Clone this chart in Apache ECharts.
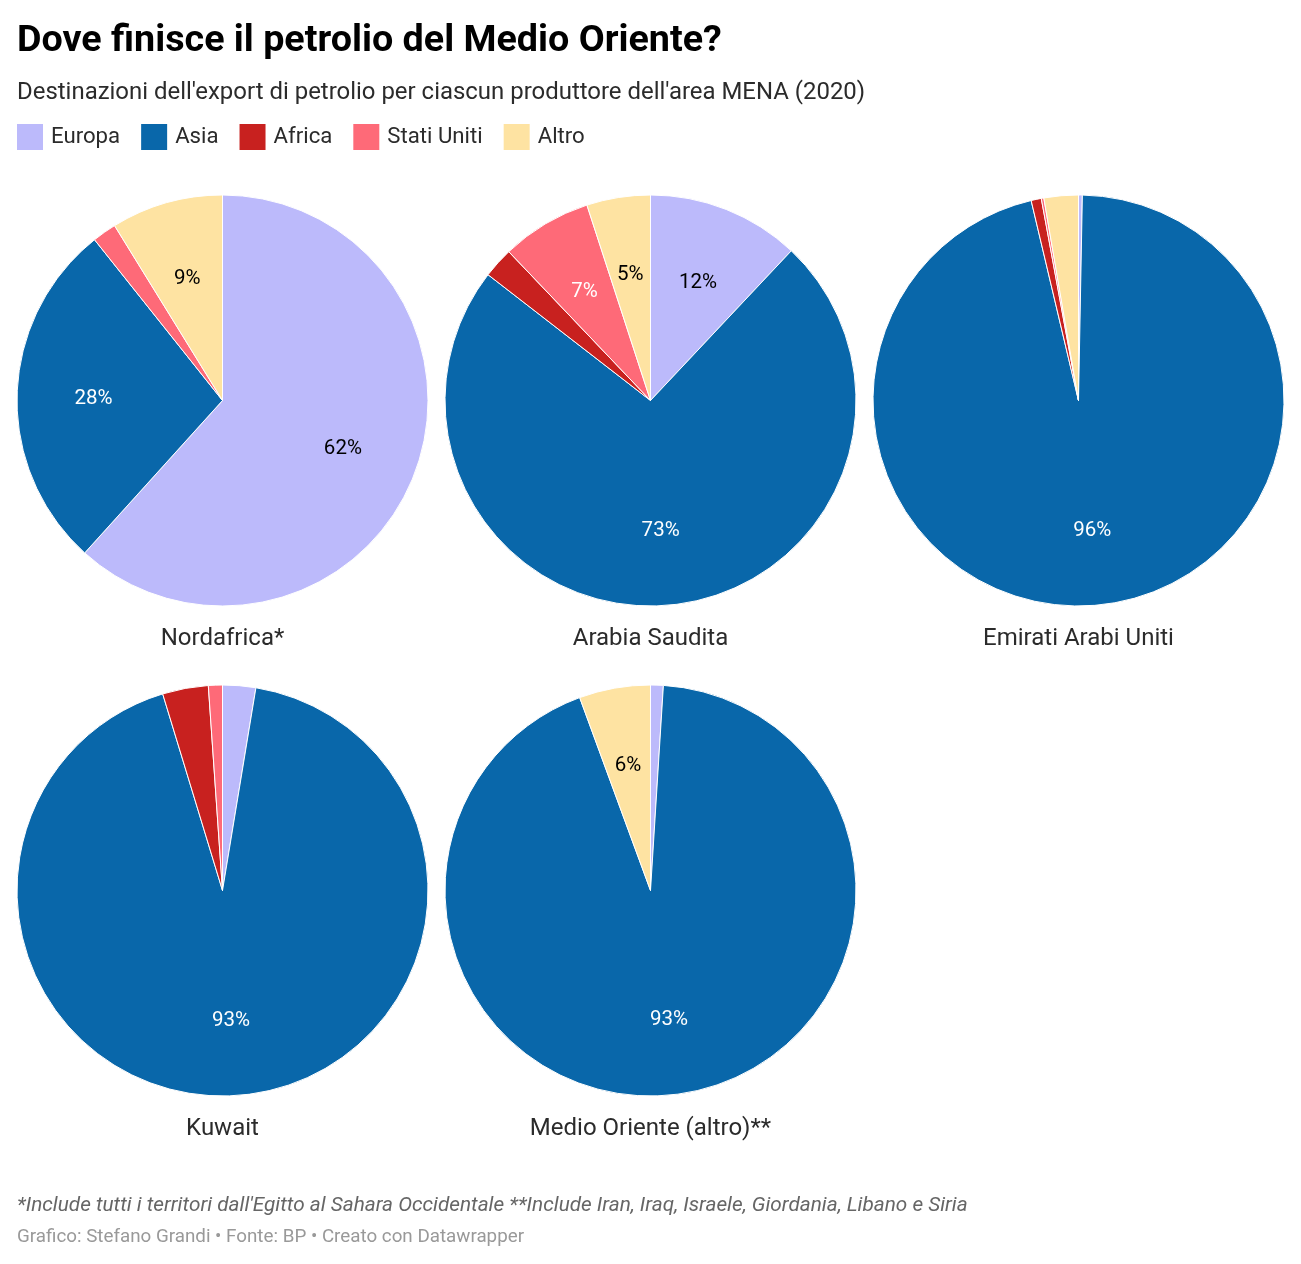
<!DOCTYPE html>
<html><head><meta charset="utf-8">
<style>html,body{margin:0;padding:0;background:#fff}#c{width:1301px;height:1264px}</style>
<script src="https://cdn.jsdelivr.net/npm/echarts@6/dist/echarts.min.js"></script>
</head><body><div id="c"></div>
<script>
const destinations = ['Europa','Asia','Africa','Stati Uniti','Altro'];
const colors = ['#bcbafb','#0967aa','#c8211f','#fe6a78','#fee3a2'];
const labelColors = ['#000','#fff','#fff','#fff','#000'];
const producers = ['Nordafrica*','Arabia Saudita','Emirati Arabi Uniti','Kuwait','Medio Oriente (altro)**'];
const nordafrica = [61.7,27.6,0,1.9,8.8];
const arabiaSaudita = [12,73.4,2.4,7.1,5];
const emirati = [0.3,96,0.8,0.2,2.7];
const kuwait = [2.6,92.7,3.6,1.1,0];
const medioOriente = [1,93.4,0,0,5.6];
const seriesValues = [nordafrica,arabiaSaudita,emirati,kuwait,medioOriente];
const title = 'Dove finisce il petrolio del Medio Oriente?';
const subtitle = "Destinazioni dell'export di petrolio per ciascun produttore dell'area MENA (2020)";
const note = "*Include tutti i territori dall'Egitto al Sahara Occidentale **Include Iran, Iraq, Israele, Giordania, Libano e Siria";
const credit = 'Grafico: Stefano Grandi • Fonte: BP • Creato con Datawrapper';

const centers = [[222.5,400.5],[650.5,400.5],[1078.5,400.5],[222.5,890.5],[650.5,890.5]];
const R = 205.5;
const F = 'Roboto';
const chart = echarts.init(document.getElementById('c'), null, {renderer:'canvas'});
const txt = (text,left,top,size,color,extra) => ({text,left,top,textAlign:extra&&extra.align,padding:0,
  textStyle:Object.assign({fontFamily:F,fontSize:size,color,fontWeight:'normal'},extra&&extra.style)});

chart.setOption({
  backgroundColor:'#fff',
  animation:false,
  title:[
    txt(title,17,23,37.7,'#000',{style:{fontWeight:'bold'}}),
    txt(subtitle,17,81,23.95,'#2b2b2b'),
    txt(note,17,1195,20.75,'#666',{style:{fontStyle:'italic'}}),
    txt(credit,17,1228,18.8,'#999'),
    ...producers.map((p,i)=>txt(p,centers[i][0],centers[i][1]+226,24,'#2b2b2b',{align:'center'}))
  ],
  legend:{
    left:15,top:122,padding:0,orient:'horizontal',itemWidth:28,itemHeight:28,itemGap:19,
    data:destinations,selectedMode:false,icon:'rect',
    textStyle:{fontFamily:F,fontSize:22.2,color:'#2b2b2b',padding:[1,0,0,2]}
  },
  series:producers.map((p,i)=>({
    type:'pie',name:p,center:centers[i],radius:[0,R],startAngle:90,clockwise:true,
    avoidLabelOverlap:false,silent:true,minAngle:0,
    itemStyle:{borderColor:'#fff',borderWidth:1},
    labelLine:{show:false},
    label:{position:'inside',fontFamily:F,fontSize:20.5},
    labelLayout:(params)=>{
      const r=params.labelRect, cx=r.x+r.width/2, cy=r.y+r.height/2, c=centers[params.seriesIndex];
      return {dx:(cx-c[0])*0.22,dy:(cy-c[1])*0.22+2};
    },
    data:destinations.map((d,j)=>({name:d,value:seriesValues[i][j],j})).filter(o=>o.value>0).map(o=>({
      name:o.name,value:o.value,
      itemStyle:{color:colors[o.j]},
      label:{show:o.value>=5,color:labelColors[o.j],formatter:Math.round(o.value)+'%'}
    }))
  }))
});
</script></body></html>
